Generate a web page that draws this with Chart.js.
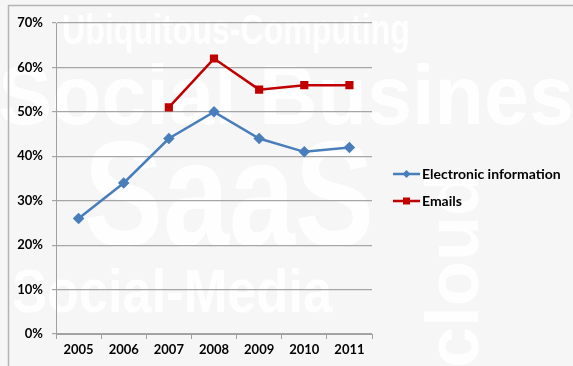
<!DOCTYPE html>
<html>
<head>
<meta charset="utf-8">
<script src="https://cdn.jsdelivr.net/npm/chart.js@4"></script>
<style>
  html, body { margin: 0; padding: 0; background: #f6f6f6; }
  #wrap { width: 573px; height: 366px; position: relative; }
</style>
</head>
<body>
<div id="wrap"><canvas id="myChart"></canvas></div>
<script>
var years = ['2005', '2006', '2007', '2008', '2009', '2010', '2011'];
var electronic = [26, 34, 44, 50, 44, 41, 42];
var emails = [null, null, 51, 62, 55, 56, 56];
var seriesNames = ['Electronic information', 'Emails'];
var seriesColors = ['#4a7ebb', '#c00000'];

var labelFont = { family: 'Lato', size: 13, weight: 'bold' };

// background, frame and the faint watermark words
const backdrop = {
    id: 'backdrop',
    beforeDraw(chart) {
        const ctx = chart.ctx;
        ctx.save();
        ctx.fillStyle = '#f6f6f6';
        ctx.fillRect(0, 0, chart.width, chart.height);

        ctx.fillStyle = 'rgba(255,255,255,0.9)';
        ctx.textBaseline = 'alphabetic';
        ctx.font = 'bold 42px "Liberation Sans"';
        ctx.fillText('Ubiquitous-Computing', 62, 44, 348);
        ctx.font = 'bold 84px "Liberation Sans"';
        ctx.fillText('Social Busines', -2, 124, 576);
        ctx.font = 'bold 150px "Liberation Sans"';
        ctx.fillText('SaaS', 84, 246, 290);
        ctx.font = 'bold 62px "Liberation Sans"';
        ctx.fillText('Social-Media', 12, 312, 320);
        ctx.translate(478, 368);
        ctx.rotate(-Math.PI / 2);
        ctx.font = 'bold 74px "Liberation Sans"';
        ctx.fillText('cloud', 0, 0, 215);
        ctx.restore();

        ctx.save();
        ctx.strokeStyle = '#b4b4b4';
        ctx.lineWidth = 1.5;
        ctx.beginPath();
        ctx.moveTo(8.5, chart.height);
        ctx.lineTo(8.5, 5.5);
        ctx.lineTo(chart.width, 5.5);
        ctx.stroke();
        ctx.restore();
    }
};

// legend on the right: line with marker in the middle
const sideLegend = {
    id: 'sideLegend',
    afterDraw(chart) {
        const ctx = chart.ctx;
        const rows = [174, 201];
        ctx.save();
        chart.data.datasets.forEach(function(ds, i) {
            var y = rows[i];
            ctx.strokeStyle = ds.borderColor;
            ctx.lineWidth = 2.5;
            ctx.beginPath();
            ctx.moveTo(393, y);
            ctx.lineTo(420, y);
            ctx.stroke();
            ctx.fillStyle = ds.borderColor;
            if (ds.pointStyle === 'rect') {
                ctx.fillRect(403, y - 3.5, 7, 7);
            } else {
                ctx.beginPath();
                ctx.moveTo(406.5, y - 4);
                ctx.lineTo(410.5, y);
                ctx.lineTo(406.5, y + 4);
                ctx.lineTo(402.5, y);
                ctx.closePath();
                ctx.fill();
            }
            ctx.fillStyle = '#000000';
            ctx.font = 'bold 14px Lato';
            ctx.textBaseline = 'middle';
            ctx.fillText(ds.label, 422, y);
        });
        ctx.restore();
    }
};

var data = {
    labels: years,
    datasets: [{
            label: seriesNames[0],
            data: electronic,
            borderColor: seriesColors[0],
            backgroundColor: seriesColors[0],
            borderWidth: 2.5,
            tension: 0,
            pointStyle: 'rectRot',
            pointRadius: 4,
            pointHoverRadius: 4
        },
        {
            label: seriesNames[1],
            data: emails,
            borderColor: seriesColors[1],
            backgroundColor: seriesColors[1],
            borderWidth: 2.5,
            tension: 0,
            pointStyle: 'rect',
            pointRadius: 4,
            pointHoverRadius: 4
        }
    ]
};

const config = {
    type: 'line',
    data,
    options: {
        responsive: true,
        maintainAspectRatio: false,
        animation: false,
        layout: {
            padding: { left: 8, right: 201, top: 23, bottom: 0 }
        },
        plugins: {
            legend: { display: false },
            tooltip: { enabled: false }
        },
        scales: {
            x: {
                offset: true,
                grid: {
                    offset: true,
                    drawOnChartArea: false,
                    drawTicks: true,
                    tickLength: 5,
                    color: '#a0a0a0'
                },
                border: { display: true, color: '#a0a0a0', width: 1 },
                ticks: {
                    color: '#000000',
                    font: labelFont,
                    padding: 3,
                    maxRotation: 0
                },
                afterFit: function(scale) { scale.height = 32; }
            },
            y: {
                min: 0,
                max: 70,
                ticks: {
                    stepSize: 10,
                    color: '#000000',
                    font: labelFont,
                    padding: 9,
                    callback: function(v) { return v + '%'; }
                },
                grid: {
                    color: '#a6a6a6',
                    lineWidth: 1.2,
                    tickLength: 4
                },
                border: { display: true, color: '#a0a0a0', width: 1 },
                afterFit: function(scale) { scale.width = 48; }
            }
        }
    },
    plugins: [backdrop, sideLegend]
};

const myChart = new Chart(document.getElementById('myChart'), config);
</script>
</body>
</html>
